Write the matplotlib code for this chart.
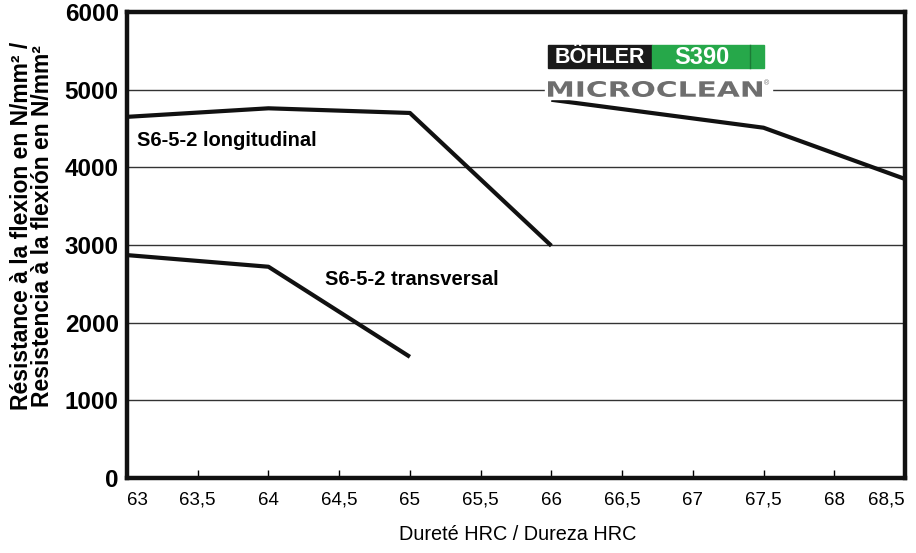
import matplotlib
matplotlib.use("Agg")
import matplotlib.pyplot as plt
from matplotlib.textpath import TextPath
from matplotlib.patches import PathPatch, Rectangle
from matplotlib.font_manager import FontProperties
from matplotlib.transforms import Affine2D

# dados
long_x = [63, 64, 65, 66]
long_y = [4650, 4760, 4700, 2990]
long2_x = [66, 67.5, 68.5]
long2_y = [4870, 4510, 3850]
trans_x = [63, 64, 65]
trans_y = [2870, 2720, 1560]

x_ticks = [63, 63.5, 64, 64.5, 65, 65.5, 66, 66.5, 67, 67.5, 68, 68.5]
x_labels = ["63", "63,5", "64", "64,5", "65", "65,5", "66", "66,5", "67", "67,5", "68", "68,5"]
y_ticks = [0, 1000, 2000, 3000, 4000, 5000, 6000]

plt.rcParams['font.family'] = ["Liberation Sans", "DejaVu Sans"]

fig = plt.figure(figsize=(9.16, 5.53), dpi=100)
ax = fig.add_axes([127/916, 1 - 478/553, 778/916, 466/553])

for yv in y_ticks[1:-1]:
    ax.axhline(yv, color="#333333", lw=1.0, zorder=1)

ax.plot(long_x, long_y, color="#111111", lw=3.0, solid_capstyle="butt", zorder=3)
ax.plot(long2_x, long2_y, color="#111111", lw=3.0, solid_capstyle="butt", zorder=3)
ax.plot(trans_x, trans_y, color="#111111", lw=3.0, solid_capstyle="butt", zorder=3)

ax.set_xlim(63, 68.5)
ax.set_ylim(0, 6000)
for s in ax.spines.values():
    s.set_linewidth(3.2)
    s.set_color("#111111")

ax.set_xticks(x_ticks)
ax.set_xticklabels(x_labels, fontsize=13.5)
ax.set_yticks(y_ticks)
ax.set_yticklabels([str(v) for v in y_ticks], fontsize=17.5, fontweight="bold")
ax.tick_params(axis="x", direction="in", length=6, width=1, pad=10)
ax.tick_params(axis="y", length=0, pad=6)
lbls = ax.get_xticklabels()
lbls[0].set_horizontalalignment("left")
lbls[-1].set_horizontalalignment("right")

ax.text(63.07, 4350, "S6-5-2 longitudinal", fontsize=14.5, fontweight="bold", va="center", zorder=4)
ax.text(64.4, 2550, "S6-5-2 transversal", fontsize=14.5, fontweight="bold", va="center", zorder=4)

fig.text(518/916, 1 - 535/553, "Dureté HRC / Dureza HRC", fontsize=14.3, ha="center", va="center")
fig.text(32/916, 1 - 226/553, "Résistance à la flexion en N/mm² /\nResistencia à la flexión en N/mm²",
         fontsize=16.5, fontweight="bold", rotation=90, ha="center", va="center", linespacing=0.9)

# logo
def ax_frac(px, py):
    return (px - 127) / 778, (478 - py) / 466

x0, y0 = ax_frac(545, 99)
x1, y1 = ax_frac(772, 42)
ax.add_patch(Rectangle((x0, y0), x1 - x0, y1 - y0, transform=ax.transAxes, color="white", zorder=5))
bx0, by0 = ax_frac(548, 68)
bx1, by1 = ax_frac(652, 45)
ax.add_patch(Rectangle((bx0, by0), bx1 - bx0, by1 - by0, transform=ax.transAxes, color="#1a1a1a", zorder=6))
gx1, _ = ax_frac(764, 45)
ax.add_patch(Rectangle((bx1, by0), gx1 - bx1, by1 - by0, transform=ax.transAxes, color="#26a84a", zorder=6))
lx, _ = ax_frac(750, 45)
ax.plot([lx, lx], [by0, by1], transform=ax.transAxes, color="#1c7a36", lw=1, zorder=7)
ax.text((bx0 + bx1) / 2, (by0 + by1) / 2 - 0.003, "BÖHLER", transform=ax.transAxes, color="white",
        fontsize=15.5, fontweight="bold", ha="center", va="center", zorder=7)
sx, _ = ax_frac(702, 45)
ax.text(sx, (by0 + by1) / 2 - 0.003, "S390", transform=ax.transAxes, color="white",
        fontsize=17, fontweight="bold", ha="center", va="center", zorder=7)

tp = TextPath((0, 0), "MICROCLEAN", prop=FontProperties(family="DejaVu Sans", weight="bold"))
ext = tp.get_extents()
mx0, my0 = ax_frac(548, 97)
mx1, my1 = ax_frac(762, 81)
tr = Affine2D().translate(-ext.x0, -ext.y0).scale((mx1 - mx0) / ext.width, (my1 - my0) / ext.height).translate(mx0, my0)
ax.add_patch(PathPatch(tr.transform_path(tp), transform=ax.transAxes, color="#6e6e6e", lw=0, zorder=7))
rx, ry = ax_frac(766, 84)
ax.text(rx, ry, "®", transform=ax.transAxes, color="#6e6e6e", fontsize=5, ha="center", va="center", zorder=7)

fig.savefig("out.png", dpi=100)
